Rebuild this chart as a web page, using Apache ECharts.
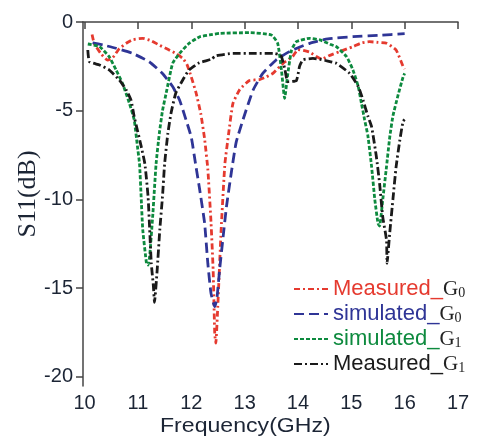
<!DOCTYPE html>
<html>
<head>
<meta charset="utf-8">
<script src="https://cdn.jsdelivr.net/npm/echarts@6/dist/echarts.min.js"></script>
<style>html,body{margin:0;padding:0;background:#fff}#c{width:478px;height:442px}</style>
</head>
<body>
<div id="c"></div>
<script>
// Tick labels
var xTicks = [10, 11, 12, 13, 14, 15, 16, 17];
var yTicks = [0, -5, -10, -15, -20];

// Series names
var seriesNames = ['Measured_G0', 'simulated_G0', 'simulated_G1', 'Measured_G1'];

// Measured_G0 (red) [GHz, dB]
var measuredG0 = [
  [10.14,-0.7],[10.18,-1.2],[10.31,-1.8],[10.43,-2.15],[10.53,-2.0],[10.65,-1.5],[10.78,-1.2],
  [10.9,-1.0],[11.09,-0.92],[11.24,-1.05],[11.4,-1.3],[11.56,-1.54],[11.71,-1.77],[11.84,-2.05],
  [11.92,-2.4],[12.0,-3.1],[12.09,-4.0],[12.18,-5.2],[12.25,-6.6],[12.31,-8.3],[12.37,-11.3],
  [12.41,-14.0],[12.44,-17.6],[12.46,-18.1],[12.5,-15.8],[12.56,-11.7],[12.63,-8.0],[12.7,-6.3],
  [12.78,-4.6],[12.91,-3.8],[13.09,-3.3],[13.28,-3.25],[13.4,-3.1],[13.53,-2.9],[13.72,-2.33],
  [13.9,-1.95],[14.0,-1.55],[14.1,-1.6],[14.22,-1.7],[14.35,-1.95],[14.45,-2.1],[14.58,-1.9],
  [14.78,-1.67],[15.03,-1.39],[15.2,-1.17],[15.34,-1.11],[15.5,-1.15],[15.66,-1.2],[15.84,-1.58],
  [15.97,-2.5],[16.0,-2.65]
];

// simulated_G0 (blue)
var simulatedG0 = [
  [10.15,-1.17],[10.35,-1.3],[10.59,-1.48],[10.9,-1.77],[11.21,-2.24],[11.46,-2.9],[11.65,-3.64],
  [11.78,-4.4],[11.9,-5.5],[12.0,-6.5],[12.08,-8.0],[12.16,-9.5],[12.25,-11.35],[12.31,-13.6],
  [12.37,-15.3],[12.44,-16.05],[12.48,-15.6],[12.53,-14.0],[12.59,-12.3],[12.66,-10.4],[12.75,-8.5],
  [12.84,-6.8],[12.97,-5.5],[13.16,-3.83],[13.34,-2.9],[13.59,-2.14],[13.78,-1.77],[13.97,-1.49],
  [14.22,-1.2],[14.56,-0.95],[15.03,-0.83],[15.5,-0.75],[16.0,-0.66]
];

// simulated_G1 (green)
var simulatedG1 = [
  [10.06,-1.24],[10.28,-1.39],[10.46,-1.95],[10.59,-2.7],[10.71,-3.46],[10.84,-4.58],[10.93,-5.52],
  [10.99,-7.0],[11.03,-8.0],[11.06,-9.85],[11.09,-11.7],[11.16,-13.6],[11.19,-13.7],[11.22,-13.2],
  [11.28,-10.8],[11.34,-8.0],[11.4,-6.3],[11.46,-5.0],[11.53,-4.0],[11.65,-2.33],[11.78,-1.77],
  [11.96,-1.2],[12.16,-0.83],[12.34,-0.73],[12.53,-0.64],[13.09,-0.6],[13.5,-0.73],[13.62,-1.2],
  [13.69,-2.7],[13.75,-4.3],[13.81,-2.9],[13.88,-1.58],[13.97,-1.11],[14.22,-0.92],[14.41,-1.01],
  [14.6,-1.25],[14.72,-1.39],[14.91,-1.95],[15.03,-2.7],[15.13,-3.64],[15.19,-4.58],[15.25,-5.52],
  [15.31,-6.4],[15.38,-8.15],[15.44,-10.0],[15.5,-11.35],[15.53,-11.5],[15.59,-10.0],[15.66,-8.15],
  [15.72,-6.5],[15.78,-5.3],[15.87,-4.2],[15.97,-3.1],[16.0,-2.9]
];

// Measured_G1 (black)
var measuredG1 = [
  [10.06,-1.58],[10.09,-2.24],[10.28,-2.42],[10.46,-2.7],[10.65,-3.27],[10.78,-3.83],[10.87,-4.4],
  [10.93,-5.34],[10.99,-6.1],[11.06,-7.0],[11.13,-8.0],[11.19,-9.85],[11.22,-11.7],[11.25,-13.6],
  [11.29,-14.9],[11.31,-15.8],[11.36,-14.0],[11.41,-11.7],[11.46,-9.85],[11.5,-8.0],[11.56,-6.3],
  [11.62,-5.15],[11.71,-4.0],[11.84,-3.27],[11.96,-2.7],[12.15,-2.3],[12.37,-2.1],[12.47,-1.9],
  [12.78,-1.77],[13.22,-1.77],[13.56,-1.77],[13.66,-1.85],[13.69,-1.95],[13.75,-2.6],[13.81,-3.36],
  [13.97,-3.3],[14.03,-2.5],[14.09,-2.14],[14.28,-2.05],[14.41,-2.1],[14.56,-2.2],[14.72,-2.33],
  [14.97,-2.9],[15.13,-3.64],[15.22,-4.4],[15.31,-5.3],[15.38,-5.9],[15.47,-7.6],[15.53,-9.1],
  [15.59,-11.0],[15.66,-12.3],[15.67,-13.6],[15.72,-11.9],[15.78,-10.0],[15.84,-8.15],[15.91,-6.65],
  [15.97,-5.6],[16.0,-5.5]
];

var colors = ['#e53a2f', '#2f3596', '#0d8a3e', '#1a1a1a'];
var dashes = [[6,3,2,3], [10,5], [4,2], [8,3,2,3]];
var seriesData = [measuredG0, simulatedG0, simulatedG1, measuredG1];

var chart = echarts.init(document.getElementById('c'));
var series = seriesNames.map(function (n, i) {
  return {
    name: n, type: 'line', data: seriesData[i], symbol: 'none', smooth: 0.15,
    lineStyle: { color: colors[i], width: 2.8, type: dashes[i] },
    itemStyle: { color: colors[i] }
  };
});

var tickFont = { fontFamily: 'Liberation Sans', fontSize: 20, color: '#1c2535' };
chart.setOption({
  animation: false,
  grid: { left: 83, right: 20, top: 22, bottom: 56, containLabel: false },
  xAxis: {
    type: 'value', min: 9.97, max: 17,
    axisLine: { lineStyle: { color: '#444', width: 1.5 } },
    axisTick: { customValues: xTicks, length: 7, lineStyle: { color: '#444', width: 1.5 } },
    axisLabel: Object.assign({ customValues: xTicks, margin: 7 }, tickFont),
    splitLine: { show: false }
  },
  yAxis: {
    type: 'value', min: -20.52, max: 0,
    axisLine: { show: true, lineStyle: { color: '#444', width: 1.5 } },
    axisTick: { show: true, customValues: yTicks, length: 7, lineStyle: { color: '#444', width: 1.5 } },
    axisLabel: Object.assign({ customValues: yTicks, margin: 10 }, tickFont),
    splitLine: { show: false }
  },
  legend: {
    orient: 'vertical', left: 288, top: 273, itemWidth: 34, itemHeight: 12, itemGap: 0,
    itemStyle: { color: 'rgba(0,0,0,0)', borderWidth: 0, opacity: 0 },
    data: seriesNames.map(function (n, i) { return { name: n, textStyle: { color: colors[i] } }; }),
    formatter: function (n) {
      return '{t|' + n.slice(0, -2) + '}{g|G}{s|' + n.slice(-1) + '}';
    },
    textStyle: {
      rich: {
        t: { fontFamily: 'Liberation Sans', fontSize: 22, lineHeight: 22, verticalAlign: 'top', padding: [0, 0, 3, 0] },
        g: { fontFamily: 'Liberation Serif', fontSize: 21, color: '#222', verticalAlign: 'bottom' },
        s: { fontFamily: 'Liberation Serif', fontSize: 14, color: '#222', verticalAlign: 'bottom' }
      }
    }
  },
  graphic: [
    { type: 'text', left: 160, top: 416, scaleX: 1.1, style: { text: 'Frequency(GHz)', font: '21px "Liberation Sans"', fill: '#1c2535' } },
    { type: 'text', x: 28, y: 194, rotation: Math.PI / 2,
      style: { text: 'S11(dB)', font: '26px "Liberation Serif"', fill: '#1c2535', align: 'center', verticalAlign: 'middle' } }
  ],
  series: series
});
</script>
</body>
</html>
